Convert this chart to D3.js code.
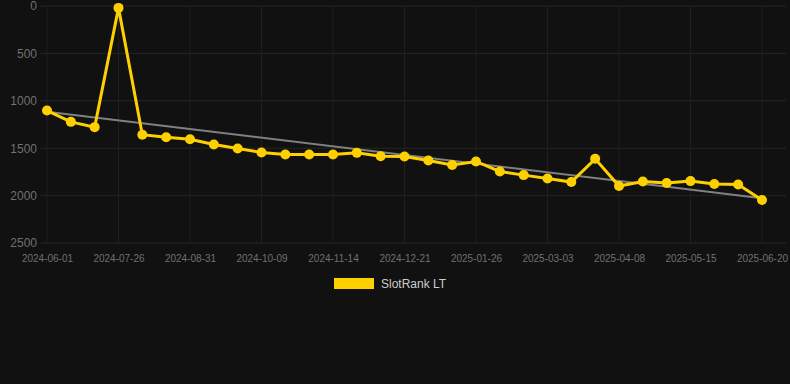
<!DOCTYPE html>
<html>
<head>
<meta charset="utf-8">
<script src="https://cdn.jsdelivr.net/npm/d3@7"></script>
<style>
  html, body { margin: 0; padding: 0; background: #111111; }
  svg { display: block; font-family: Arial, "Liberation Sans", sans-serif; }
</style>
</head>
<body>
<div id="chart"></div>
<script>
// dates (every third one is labelled on the axis)
let dates = [
  "2024-06-01", "2024-06-19", "2024-07-07", "2024-07-26", "2024-08-07", "2024-08-19",
  "2024-08-31", "2024-09-13", "2024-09-26", "2024-10-09", "2024-10-21", "2024-11-02",
  "2024-11-14", "2024-11-26", "2024-12-09", "2024-12-21", "2025-01-02", "2025-01-14",
  "2025-01-26", "2025-02-07", "2025-02-19", "2025-03-03", "2025-03-15", "2025-03-27",
  "2025-04-08", "2025-04-20", "2025-05-03", "2025-05-15", "2025-05-27", "2025-06-08",
  "2025-06-20"
];
let rankValues = [
  1103, 1222, 1278, 20, 1358, 1385, 1405, 1461, 1503, 1545, 1566, 1566,
  1566, 1549, 1584, 1587, 1629, 1678, 1640, 1745, 1784, 1819, 1857, 1612,
  1899, 1851, 1868, 1847, 1878, 1882, 2047
];
let yTicks = [0, 500, 1000, 1500, 2000, 2500];
let seriesName = "SlotRank LT";

let width = 790, height = 384;
let margin = { top: 6, left: 40, right: 4, bottom: 141 };

let svg = d3.select("#chart")
  .append("svg")
    .attr("width", width)
    .attr("height", height);

let x = d3.scalePoint()
  .domain(dates)
  .range([47, 762]);

let y = d3.scaleLinear()
  .domain([0, 2500])
  .range([margin.top, height - margin.bottom]);

// grid
svg.append("g")
  .selectAll("line")
  .data(yTicks)
  .enter()
  .append("line")
    .attr("x1", margin.left)
    .attr("x2", width - margin.right)
    .attr("y1", d => y(d))
    .attr("y2", d => y(d))
    .attr("stroke", "#262626")
    .attr("stroke-width", 1);

let labelled = dates.filter((d, i) => i % 3 === 0);

svg.append("g")
  .selectAll("line")
  .data(labelled)
  .enter()
  .append("line")
    .attr("x1", d => x(d))
    .attr("x2", d => x(d))
    .attr("y1", y(0))
    .attr("y2", y(2500))
    .attr("stroke", "#1f1f1f")
    .attr("stroke-width", 1);

// y axis
let yAxis = svg.append("g")
  .attr("transform", "translate(" + 37 + ",0)")
  .call(d3.axisLeft(y).tickValues(yTicks).tickFormat(d3.format("d")).tickSize(0).tickPadding(0));
yAxis.select(".domain").remove();
yAxis.selectAll("text")
  .attr("fill", "#707070")
  .style("font-size", "12px");

// x axis
let xAxis = svg.append("g")
  .attr("transform", "translate(0," + (y(2500) + 12) + ")")
  .call(d3.axisBottom(x).tickValues(labelled).tickSize(0).tickPadding(0));
xAxis.select(".domain").remove();
xAxis.selectAll("text")
  .attr("fill", "#707070")
  .style("font-size", "10px");

// trend line (least squares over the series)
let n = rankValues.length;
let meanI = d3.mean(rankValues, (d, i) => i);
let meanV = d3.mean(rankValues);
let sxy = d3.sum(rankValues, (d, i) => (i - meanI) * (d - meanV));
let sxx = d3.sum(rankValues, (d, i) => (i - meanI) * (i - meanI));
let slope = sxy / sxx;
let trend = [0, n - 1].map(i => ({ date: dates[i], v: meanV + slope * (i - meanI) }));

svg.append("line")
  .attr("x1", x(trend[0].date))
  .attr("y1", y(trend[0].v))
  .attr("x2", x(trend[1].date))
  .attr("y2", y(trend[1].v))
  .attr("stroke", "#808080")
  .attr("stroke-width", 2);

// series
let data = dates.map((d, i) => ({ date: d, v: rankValues[i] }));

svg.append("path")
  .datum(data)
  .attr("fill", "none")
  .attr("stroke", "#FFD000")
  .attr("stroke-width", 3)
  .attr("d", d3.line().x(d => x(d.date)).y(d => y(d.v)));

svg.append("g")
  .selectAll("circle")
  .data(data)
  .enter()
  .append("circle")
    .attr("cx", d => x(d.date))
    .attr("cy", d => y(d.v))
    .attr("r", 5)
    .attr("fill", "#FFD000");

// legend
let legend = svg.append("g")
  .attr("transform", "translate(334,278)");
legend.append("rect")
  .attr("width", 40)
  .attr("height", 11)
  .attr("fill", "#FFD000");
legend.append("text")
  .attr("x", 47)
  .attr("y", 10)
  .attr("fill", "#ccc")
  .style("font-size", "12px")
  .text(seriesName);
</script>
</body>
</html>
